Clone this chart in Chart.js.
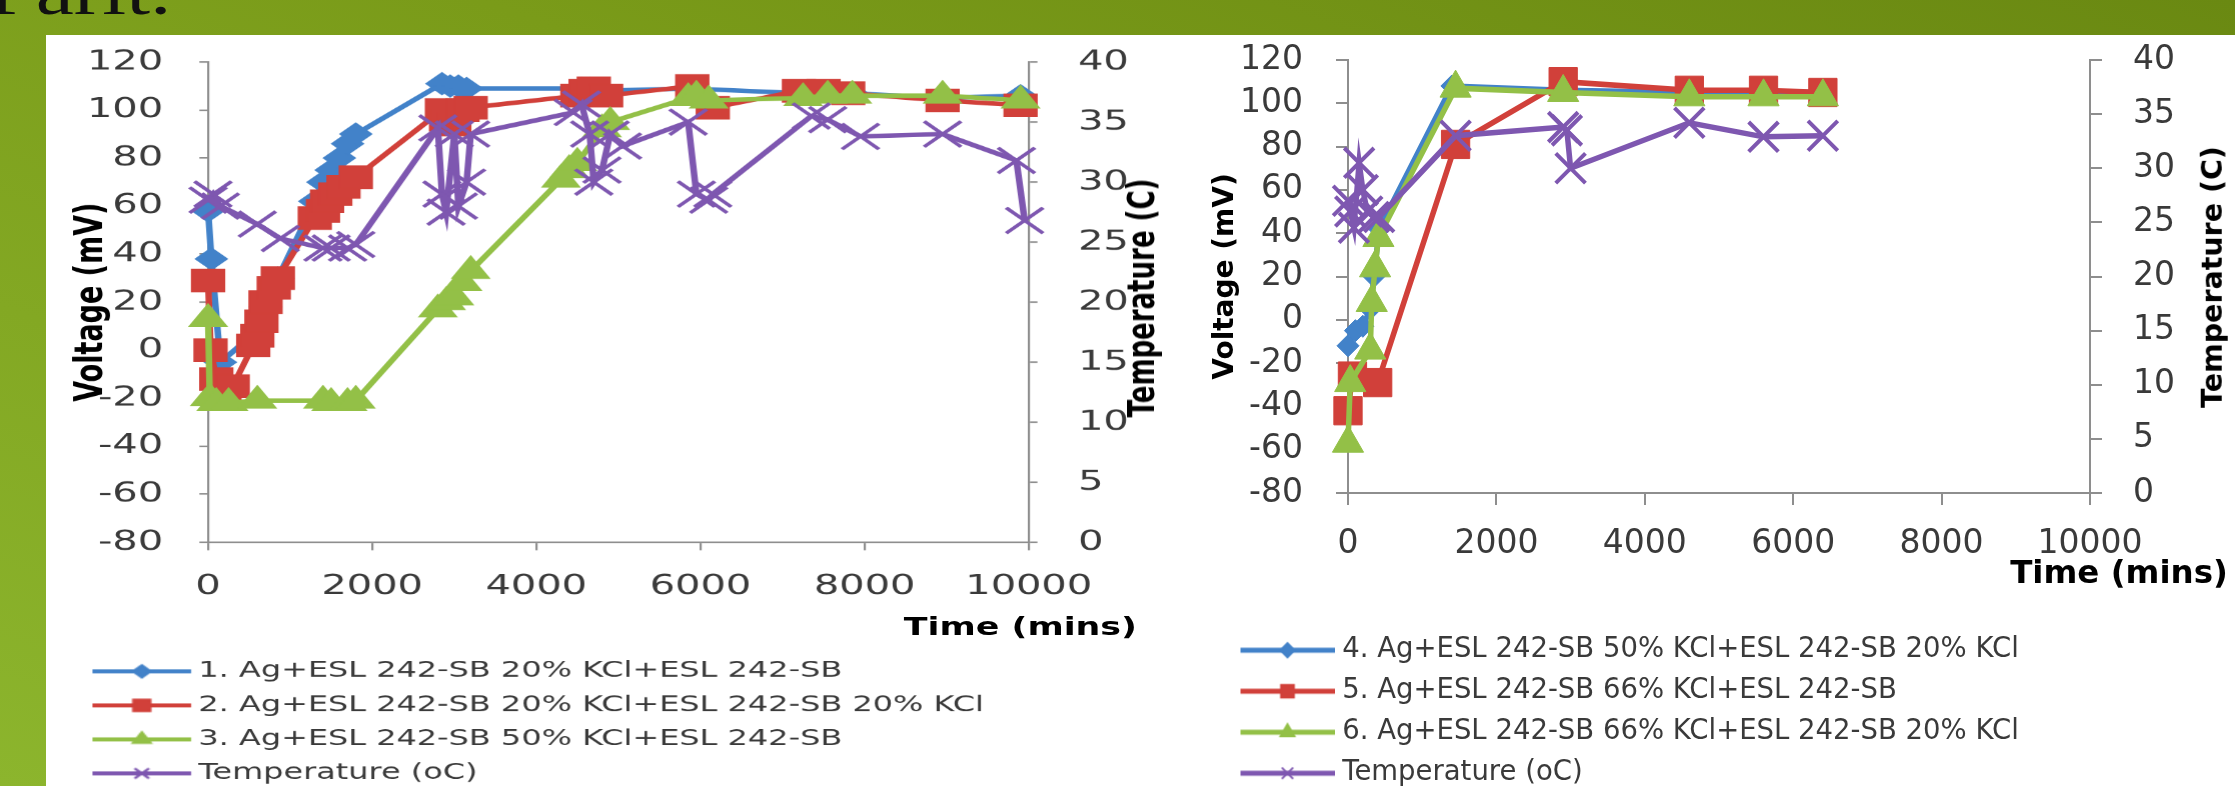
<!DOCTYPE html>
<html>
<head>
<meta charset="utf-8">
<script src="https://cdn.jsdelivr.net/npm/chart.js@4.4.1/dist/chart.umd.min.js"></script>
<style>
  html, body { margin: 0; padding: 0; width: 2235px; height: 786px; overflow: hidden; }
  body { position: relative; background: linear-gradient(200deg, #6a8912 0%, #7a9b19 40%, #8cb52d 100%); font-family: 'DejaVu Sans', sans-serif; }
  #slideTitle { position: absolute; left: -12px; top: -40px; font-family: 'Liberation Serif', serif; font-size: 66px; line-height: 64px; color: #111; transform: scaleX(1.3); transform-origin: 0 0; white-space: nowrap; }
  #panel { position: absolute; left: 46px; top: 35px; width: 2189px; height: 751px; background: #fff; }
  #leftWrap { position: absolute; left: 46px; top: 35px; width: 782px; height: 759px; transform: scaleX(1.45); transform-origin: 0 0; }
  #rightWrap { position: absolute; left: 1180px; top: 35px; width: 1055px; height: 762px; }
  canvas { position: absolute; left: 0; top: 0; }
  .ttl { position: absolute; font-family: 'DejaVu Sans', sans-serif; font-weight: bold; color: #000; line-height: 1; white-space: nowrap; transform: translate(-50%, -50%); }
  .rot { transform: translate(-50%, -50%) rotate(-90deg); }
</style>
</head>
<body>
<div id="slideTitle">Parit.</div>
<div id="panel"></div>
<div id="leftWrap">
  <canvas id="cL" width="782" height="759"></canvas>
  <div class="ttl rot" style="left:754.5px; top:263px; font-size:26px;">Temperature (C)</div>
  <div class="ttl" style="left:672px; top:592px; font-size:24px;">Time (mins)</div>
</div>
<div id="rightWrap">
  <canvas id="cR" width="1055" height="762"></canvas>
  <div class="ttl rot" style="left:1033px; top:242px; font-size:28.5px;">Temperature (C)</div>
  <div class="ttl" style="left:939px; top:537px; font-size:32.5px;">Time (mins)</div>
</div>
<script>
// ---------------- DATA ----------------
const xTickValues = [0, 2000, 4000, 6000, 8000, 10000];
const voltTickValues = [-80, -60, -40, -20, 0, 20, 40, 60, 80, 100, 120];
const tempTickValues = [0, 5, 10, 15, 20, 25, 30, 35, 40];

const leftLabels = [
  '1. Ag+ESL 242-SB 20% KCl+ESL 242-SB',
  '2. Ag+ESL 242-SB 20% KCl+ESL 242-SB 20% KCl',
  '3. Ag+ESL 242-SB 50% KCl+ESL 242-SB',
  'Temperature (oC)'
];
const rightLabels = [
  '4. Ag+ESL 242-SB 50% KCl+ESL 242-SB 20% KCl',
  '5. Ag+ESL 242-SB 66% KCl+ESL 242-SB',
  '6. Ag+ESL 242-SB 66% KCl+ESL 242-SB 20% KCl',
  'Temperature (oC)'
];

// Left chart (time in mins, voltage in mV, temperature in C)
const time1 = [0, 40, 150, 600, 700, 850, 1300, 1400, 1500, 1600, 1700, 1800, 2850, 2950, 3050, 3150, 4550, 4650, 4750, 5850, 7250, 7650, 7850, 8950, 9900];
const volt1 = [58, 38, -5, 8, 18, 30, 62, 70, 75, 80, 86, 90, 111, 110, 110, 109, 109, 109, 108, 109, 107, 108, 107, 105, 106];

const time2 = [0, 30, 100, 200, 300, 550, 600, 650, 700, 800, 850, 1300, 1400, 1450, 1550, 1650, 1800, 2850, 2900, 3000, 3100, 3200, 4500, 4600, 4700, 4850, 5900, 6150, 7200, 7500, 7800, 8950, 9900];
const volt2 = [29, 0, -12, -18, -15, 2, 6, 12, 20, 26, 30, 55, 58, 62, 65, 68, 72, 100, 96, 94, 100, 101, 106, 108, 109, 106, 110, 101, 108, 108, 107, 104, 102];

const time3 = [0, 20, 100, 250, 600, 1400, 1500, 1700, 1800, 2800, 2900, 3000, 3100, 3200, 4300, 4400, 4500, 4800, 4900, 5850, 5950, 6100, 7250, 7550, 7850, 8950, 9900];
const volt3 = [13, -20, -22, -22, -21, -21, -22, -22, -21, 17, 20, 22, 28, 33, 71, 75, 78, 92, 95, 105, 106, 104, 105, 106, 106, 106, 104];

const timeTempL = [0, 60, 150, 600, 880, 1400, 1500, 1700, 1800, 2800, 2850, 2900, 3000, 3050, 3150, 3200, 4450, 4550, 4650, 4700, 4800, 4900, 5050, 5850, 5950, 6100, 6150, 7350, 7550, 7950, 8950, 9850, 9950];
const tempL     = [28.5, 29, 28, 26.5, 25.3, 24.5, 24.5, 24.5, 24.8, 34.5, 29, 27.5, 34, 28, 30, 34, 35.8, 36.5, 34, 30, 31, 34, 33, 35, 29, 28.5, 29, 35.5, 35.2, 33.8, 34, 31.8, 26.8];

// Right chart
const time4 = [0, 100, 200, 300, 350, 420, 1400, 2900, 4600, 5600, 6400];
const volt4 = [-12, -5, -3, 5, 20, 42, 108, 106, 105, 105, 105];

const time5 = [0, 60, 400, 1450, 2900, 4600, 5600, 6400];
const volt5 = [-42, -26, -29, 81, 110, 106, 106, 105];

const time6 = [0, 30, 300, 320, 365, 410, 1450, 2900, 4600, 5600, 6400];
const volt6 = [-57, -29, -14, 8, 24, 38, 107, 105, 103, 103, 103];

const timeTempR = [0, 30, 80, 150, 200, 260, 350, 420, 1450, 2900, 2950, 3000, 4600, 5600, 6400];
const tempR     = [27, 26, 24.5, 30.5, 28, 26, 25.5, 25.5, 33, 33.8, 33.5, 30, 34.2, 32.9, 33];

// ---------------- STYLE ----------------
const COL = { blue: '#4282c9', red: '#d1403a', green: '#93c047', purple: '#7e57b0' };
const TICK_COL = '#3a3a3a';
const AXIS_COL = '#8e8e8e';
Chart.defaults.font.family = "'DejaVu Sans', sans-serif";

function ds(label, xs, ys, color, style, radius, axis, order, lw, pbw) {
  return {
    label, data: xs.map((x, i) => ({ x, y: ys[i] })),
    borderColor: color, backgroundColor: color,
    pointBackgroundColor: color, pointBorderColor: color,
    pointStyle: style, pointRadius: radius, pointBorderWidth: pbw,
    borderWidth: lw, yAxisID: axis, order, clip: false, tension: 0
  };
}

function icon(color, style, w, h, x0, x1, r, lw) {
  const c = document.createElement('canvas');
  c.width = w; c.height = h;
  const g = c.getContext('2d');
  g.strokeStyle = color; g.fillStyle = color; g.lineWidth = lw;
  g.beginPath(); g.moveTo(x0, h / 2); g.lineTo(x1, h / 2); g.stroke();
  g.lineWidth = 2;
  Chart.helpers.drawPoint(g, { pointStyle: style, radius: r, borderWidth: 2, rotation: 0 }, (x0 + x1) / 2, h / 2);
  return c;
}

function tickSetter(values) {
  return s => { s.ticks = values.map(v => ({ value: v })); };
}

// fixed axis width; the label padding is not reserved above/below the plot
function fixWidth(w) {
  return s => { s.width = w; s.paddingTop = 0; s.paddingBottom = 0; };
}

function legendOpts(icons, fontSize, pad, psw) {
  return {
    position: 'bottom', align: 'start',
    labels: {
      usePointStyle: true, pointStyleWidth: psw, padding: pad, color: TICK_COL,
      font: { size: fontSize },
      sort: (a, b) => a.datasetIndex - b.datasetIndex,
      generateLabels: chart => Chart.defaults.plugins.legend.labels.generateLabels(chart)
        .map(it => Object.assign(it, { pointStyle: icons[it.datasetIndex] }))
    }
  };
}

function axisGrid(tl, lw) {
  return { drawOnChartArea: false, drawTicks: true, tickLength: tl, color: AXIS_COL, lineWidth: lw };
}

// ---------------- LEFT CHART ----------------
const iconsL = [
  icon(COL.blue, 'rectRot', 76, 24, 7, 75, 6, 4),
  icon(COL.red, 'rect', 76, 24, 7, 75, 8, 4),
  icon(COL.green, 'triangle', 76, 24, 7, 75, 7, 4),
  icon(COL.purple, 'crossRot', 76, 24, 7, 75, 7, 4)
];

new Chart(document.getElementById('cL'), {
  type: 'line',
  data: { datasets: [
    ds(leftLabels[0], time1, volt1, COL.blue, 'rectRot', 11, 'y', 4, 4.5, 1),
    ds(leftLabels[1], time2, volt2, COL.red, 'rect', 16, 'y', 3, 4.5, 1),
    ds(leftLabels[2], time3, volt3, COL.green, 'triangle', 15, 'y', 2, 4.5, 1),
    ds(leftLabels[3], timeTempL, tempL, COL.purple, 'crossRot', 18, 'y2', 1, 4.5, 3)
  ]},
  options: {
    responsive: false, animation: false, devicePixelRatio: 1.45,
    layout: { padding: { left: 20, right: 0, top: 27, bottom: 0 } },
    plugins: { legend: legendOpts(iconsL, 22, 12, 62), tooltip: { enabled: false } },
    scales: {
      x: {
        type: 'linear', min: 0, max: 10000,
        afterBuildTicks: tickSetter(xTickValues),
        afterFit: s => { s.height = 106; },
        ticks: { callback: v => String(v), font: { size: 27.5 }, color: TICK_COL, padding: 20, maxRotation: 0, autoSkip: false },
        grid: axisGrid(8, 1.5),
        border: { display: true, color: AXIS_COL, width: 1.5 }
      },
      y: {
        position: 'left', min: -80, max: 120,
        afterBuildTicks: tickSetter(voltTickValues),
        afterFit: fixWidth(91.7),
        ticks: { callback: v => String(v), font: { size: 27.5 }, color: TICK_COL, padding: 25, autoSkip: false },
        grid: axisGrid(6, 1.5),
        border: { display: true, color: AXIS_COL, width: 1.5 },
        title: { display: true, text: 'Voltage (mV)', color: '#000', font: { size: 27, weight: 'bold', lineHeight: 1 }, padding: { top: -2, bottom: 0 } }
      },
      y2: {
        position: 'right', min: 0, max: 40,
        afterBuildTicks: tickSetter(tempTickValues),
        afterFit: fixWidth(104.8),
        ticks: { callback: v => String(v), font: { size: 27.5 }, color: TICK_COL, padding: 28, autoSkip: false },
        grid: axisGrid(6, 1.5),
        border: { display: true, color: AXIS_COL, width: 1.5 }
      }
    }
  }
});

// ---------------- RIGHT CHART ----------------
const iconsR = [
  icon(COL.blue, 'rectRot', 100, 28, 6, 100, 7, 5),
  icon(COL.red, 'rect', 100, 28, 6, 100, 9, 5),
  icon(COL.green, 'triangle', 100, 28, 6, 100, 8, 5),
  icon(COL.purple, 'crossRot', 100, 28, 6, 100, 8, 5)
];

new Chart(document.getElementById('cR'), {
  type: 'line',
  data: { datasets: [
    ds(rightLabels[0], time4, volt4, COL.blue, 'rectRot', 11, 'y', 4, 5.5, 1),
    ds(rightLabels[1], time5, volt5, COL.red, 'rect', 20, 'y', 3, 5.5, 1),
    ds(rightLabels[2], time6, volt6, COL.green, 'triangle', 18, 'y', 2, 5.5, 1),
    ds(rightLabels[3], timeTempR, tempR, COL.purple, 'crossRot', 21, 'y2', 1, 5.5, 4)
  ]},
  options: {
    responsive: false, animation: false,
    layout: { padding: { left: 47, right: 4, top: 25, bottom: 0 } },
    plugins: { legend: legendOpts(iconsR, 27.5, 13.5, 88), tooltip: { enabled: false } },
    scales: {
      x: {
        type: 'linear', min: 0, max: 10000,
        afterBuildTicks: tickSetter(xTickValues),
        afterFit: s => { s.height = 130; },
        ticks: { callback: v => String(v), font: { size: 33 }, color: TICK_COL, padding: 20, maxRotation: 0, autoSkip: false },
        grid: axisGrid(12, 2),
        border: { display: true, color: AXIS_COL, width: 2 }
      },
      y: {
        position: 'left', min: -80, max: 120,
        afterBuildTicks: tickSetter(voltTickValues),
        afterFit: fixWidth(121),
        ticks: { callback: v => String(v), font: { size: 33 }, color: TICK_COL, padding: 33, autoSkip: false },
        grid: axisGrid(12, 2),
        border: { display: true, color: AXIS_COL, width: 2 },
        title: { display: true, text: 'Voltage (mV)', color: '#000', font: { size: 28, weight: 'bold', lineHeight: 1 }, padding: { top: -15, bottom: 0 } }
      },
      y2: {
        position: 'right', min: 0, max: 40,
        afterBuildTicks: tickSetter(tempTickValues),
        afterFit: fixWidth(141),
        ticks: { callback: v => String(v), font: { size: 33 }, color: TICK_COL, padding: 31, autoSkip: false },
        grid: axisGrid(12, 2),
        border: { display: true, color: AXIS_COL, width: 2 }
      }
    }
  }
});
</script>
</body>
</html>
